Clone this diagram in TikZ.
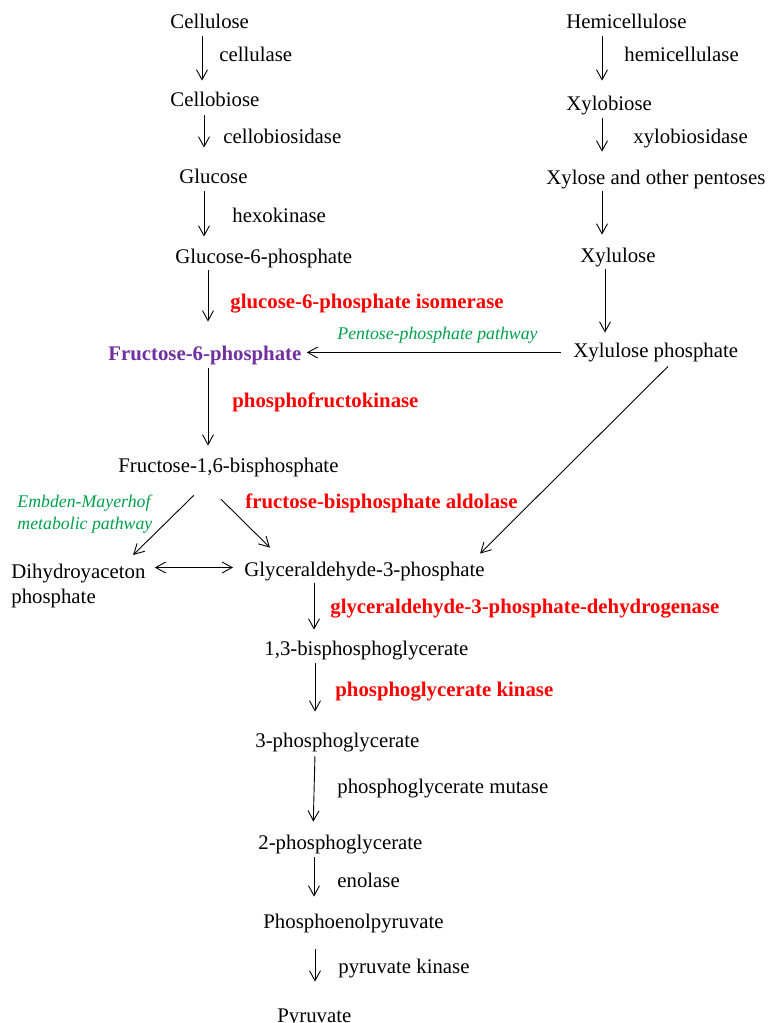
\documentclass[tikz,border=0pt]{standalone}
\usepackage{fontspec}
\setmainfont{Liberation Serif}
\usepackage{tikz}
\usetikzlibrary{arrows.meta,calc}
\definecolor{enzred}{RGB}{255,0,0}
\definecolor{frucpurple}{RGB}{112,48,160}
\definecolor{pathgreen}{RGB}{0,160,75}
\newcommand{\labelsize}{\fontsize{10.4}{12.5}\selectfont}
\tikzstyle{arrow}   = [->,>={Straight Barb[length=5pt,width=5.5pt]},line width=0.45pt]
\tikzstyle{sugar}   = [anchor=base west,inner sep=1pt,text height=7pt,text depth=2.5pt,font=\labelsize]
\tikzstyle{enz}     = [anchor=base west,inner sep=1pt,font=\labelsize]
\tikzstyle{keyenz}  = [enz,font=\labelsize\bfseries,text=enzred]
\tikzstyle{pathway} = [inner sep=1pt,font=\fontsize{8.9}{10.6}\selectfont\itshape,text=pathgreen]

\begin{document}
\begin{tikzpicture}[x=0.5pt,y=-0.5pt]
        \useasboundingbox (0,0) rectangle (769,1023);
        \node[sugar] (cel) at (168,28) {Cellulose};
        \node[sugar] (cbio) at (168,106) {Cellobiose};
        \node[sugar] (glc) at (177,183) {Glucose};
        \node[sugar] (gsix) at (173,263) {Glucose-6-phosphate};
        \node[sugar, font=\labelsize\bfseries, text=frucpurple] (fsix) at (106,360) {Fructose-6-phosphate};
        \node[sugar] (fbis) at (116,472) {Fructose-1,6-bisphosphate};
        \node[inner sep=1pt, font=\labelsize, align=left, anchor=north west] (dhap) at (9,562) {Dihydroyaceton\\phosphate};
        \node[sugar] (gap) at (242,576) {Glyceraldehyde-3-phosphate};
        \node[sugar] (bpg) at (262,655) {1,3-bisphosphoglycerate};
        \node[sugar] (pgthree) at (253,747) {3-phosphoglycerate};
        \node[sugar] (pgtwo) at (256,849) {2-phosphoglycerate};
        \node[sugar] (pep) at (261,928) {Phosphoenolpyruvate};
        \node[sugar] (pyr) at (275,1022) {Pyruvate};

        \node[sugar] (hemi) at (564,28) {Hemicellulose};
        \node[sugar] (xbio) at (564,110) {Xylobiose};
        \node[sugar] (xyl) at (544,184) {Xylose and other pentoses};
        \node[sugar] (xlu) at (578,262) {Xylulose};
        \node[sugar] (xlup) at (571,357) {Xylulose phosphate};

        \node[enz] (ecel) at (217,61) {cellulase};
        \node[enz] (ecbio) at (221,143) {cellobiosidase};
        \node[enz] (ehex) at (230,222) {hexokinase};
        \node[keyenz] (eiso) at (228,308) {glucose-6-phosphate isomerase};
        \node[keyenz] (epfk) at (230,407) {phosphofructokinase};
        \node[keyenz] (eald) at (243,508) {fructose-bisphosphate aldolase};
        \node[keyenz] (edh) at (328,613) {glyceraldehyde-3-phosphate-dehydrogenase};
        \node[keyenz] (epgk) at (333,696) {phosphoglycerate kinase};
        \node[enz] (emut) at (335,793) {phosphoglycerate mutase};
        \node[enz] (eeno) at (335,887) {enolase};
        \node[enz] (epk) at (336,973) {pyruvate kinase};
        \node[enz] (ehemi) at (622,61) {hemicellulase};
        \node[enz] (exbio) at (631,143) {xylobiosidase};
        \node[pathway, anchor=base west] (ppp) at (335,339) {Pentose-phosphate pathway};
        \node[pathway, align=left, anchor=north west] (emp) at (15,493) {Embden-Mayerhof\\metabolic pathway};

        \draw[arrow, shorten <=0.5pt, shorten >=4.5pt] (cel.south -| 202,0) -- (cbio.north -| 202,0);
        \draw[arrow, shorten <=1pt, shorten >=9.5pt] (cbio.south -| 204,0) -- (glc.north -| 204,0);
        \draw[arrow, shorten <=0.5pt, shorten >=5pt] (glc.south -| 204,0) -- (gsix.north -| 204,0);
        \draw[arrow, shorten >=11pt] (gsix.south -| 208,0) -- (fsix.north -| 208,0);
        \draw[arrow, shorten <=0.5pt, shorten >=5pt] (fsix.south -| 208,0) -- (fbis.north -| 208,0);
        \draw[arrow, shorten <=11.4pt, shorten >=5pt] (fbis.south -| 210,0) -- (dhap.north -| 126,0);
        \draw[arrow, shorten <=14pt, shorten >=8.5pt] (fbis.south -| 201,0) -- (gap.north -| 282,0);
        \draw[arrow, <->, shorten <=3.5pt, shorten >=4.5pt] ([yshift=2pt]gap.west -| dhap.east) -- ([yshift=2pt]gap.west);
        \draw[arrow, shorten >=4.5pt] (gap.south -| 314,0) -- (bpg.north -| 314,0);
        \draw[arrow, shorten <=0.5pt, shorten >=9.5pt] (bpg.south -| 315,0) -- (pgthree.north -| 315,0);
        \draw[arrow, shorten <=1pt, shorten >=5.5pt] (pgthree.south -| 315,0) -- (pgtwo.north -| 313,0);
        \draw[arrow, shorten <=0.5pt, shorten >=7.5pt] (pgtwo.south -| 314,0) -- (pep.north -| 314,0);
        \draw[arrow, shorten <=7pt, shorten >=12pt] (pep.south -| 315,0) -- (pyr.north -| 315,0);

        \draw[arrow, shorten <=0.5pt, shorten >=6.5pt] (hemi.south -| 602,0) -- (xbio.north -| 602,0);
        \draw[arrow, shorten <=0.5pt, shorten >=8pt] (xbio.south -| 602,0) -- (xyl.north -| 602,0);
        \draw[arrow, shorten >=5.5pt] (xyl.south -| 602,0) -- (xlu.north -| 602,0);
        \draw[arrow, shorten >=4pt] (xlu.south -| 605,0) -- (xlup.north -| 605,0);
        \draw[arrow, shorten <=5pt, shorten >=1.5pt] (xlup.west) -- (xlup.west -| fsix.east);
        \draw[arrow, shorten <=1.4pt, shorten >=4.3pt] (xlup.south -| 670,0) -- (gap.north -| 474,0);
    \end{tikzpicture}
\end{document}
